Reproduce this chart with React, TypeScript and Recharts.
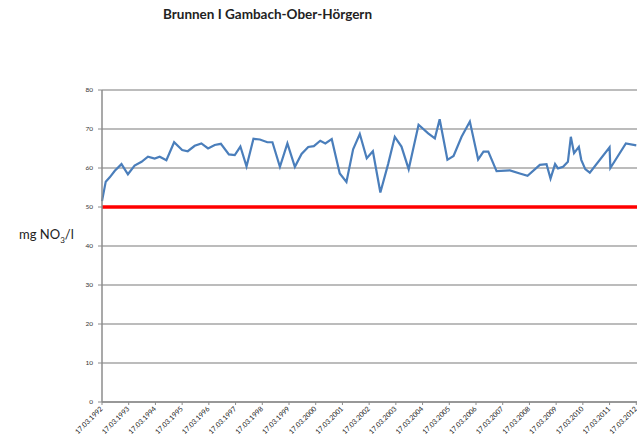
import { LineChart, Line, XAxis, YAxis, CartesianGrid, ReferenceLine } from 'recharts'

// sample dates as decimal years
const dates = [
  1992.21, 1992.35, 1992.5, 1992.69, 1992.94, 1993.18, 1993.43, 1993.69, 1993.93, 1994.18,
  1994.37, 1994.62, 1994.91, 1995.21, 1995.42, 1995.68, 1995.93, 1996.18, 1996.43, 1996.66,
  1996.96, 1997.18, 1997.39, 1997.62, 1997.88, 1998.12, 1998.4, 1998.59, 1998.87, 1999.15,
  1999.43, 1999.68, 1999.93, 2000.14, 2000.38, 2000.57, 2000.81, 2001.11, 2001.36, 2001.61,
  2001.86, 2002.12, 2002.35, 2002.63, 2002.92, 2003.17, 2003.42, 2003.69, 2004.06, 2004.42,
  2004.67, 2004.85, 2005.14, 2005.37, 2005.67, 2005.98, 2006.29, 2006.49, 2006.67, 2006.98,
  2007.48, 2007.85, 2008.14, 2008.6, 2008.85, 2009.0, 2009.17, 2009.28, 2009.47, 2009.65,
  2009.76, 2009.88, 2010.06, 2010.15, 2010.3, 2010.47, 2011.21, 2011.24, 2011.82, 2012.21,
]

// nitrate, mg NO3/l
const nitrate = [
  51.5, 56.5, 57.6, 59.3, 61.0, 58.4, 60.6, 61.6, 62.9, 62.4,
  62.9, 62.0, 66.6, 64.6, 64.3, 65.7, 66.3, 65.0, 65.9, 66.2,
  63.5, 63.3, 65.5, 60.4, 67.5, 67.3, 66.6, 66.6, 60.3, 66.3,
  60.3, 63.6, 65.4, 65.6, 67.0, 66.3, 67.4, 58.6, 56.4, 64.8,
  68.7, 62.5, 64.3, 53.7, 61.0, 68.0, 65.5, 59.7, 71.1, 68.9,
  67.6, 72.5, 62.1, 63.1, 68.0, 71.9, 62.2, 64.2, 64.2, 59.2,
  59.4, 58.6, 58.0, 60.8, 61.0, 57.3, 61.0, 59.9, 60.3, 61.6,
  68.0, 63.8, 65.4, 62.1, 59.7, 58.8, 65.3, 60.0, 66.3, 65.8,
]

const tickYears = [
  1992, 1993, 1994, 1995, 1996, 1997, 1998, 1999, 2000, 2001, 2002,
  2003, 2004, 2005, 2006, 2007, 2008, 2009, 2010, 2011, 2012,
]
const yTicks = [0, 10, 20, 30, 40, 50, 60, 70, 80]
const limit = 50

const data = dates.map((t, i) => ({ t, v: nitrate[i] }))
const xTicks = tickYears.map((y) => y + 0.21)

const font = 'Lato, "DejaVu Sans", sans-serif'

const XTick = (props: any) => {
  const { x, y, payload } = props
  const year = Math.round(payload.value - 0.21)
  return (
    <text
      x={x}
      y={y}
      transform={`rotate(-45 ${x} ${y})`}
      textAnchor="end"
      dominantBaseline="middle"
      fontSize={7}
      fill="#222"
      fontFamily={font}
    >
      {`17.03.${year}`}
    </text>
  )
}

export default function App() {
  return (
    <div
      style={{
        position: 'absolute',
        left: 0,
        top: 0,
        width: 637,
        height: 448,
        overflow: 'hidden',
        background: '#fff',
        fontFamily: font,
      }}
    >
      <div
        style={{
          position: 'absolute',
          left: 0,
          width: 535,
          top: 6,
          textAlign: 'center',
          fontSize: 13.5,
          fontWeight: 'bold',
          color: '#222',
        }}
      >
        Brunnen I Gambach-Ober-Hörgern
      </div>
      <div style={{ position: 'absolute', left: 19, top: 226, fontSize: 13, color: '#222' }}>
        mg NO<sub style={{ fontSize: 8 }}>3</sub>/l
      </div>
      <div style={{ position: 'absolute', left: 0, top: 0 }}>
        <LineChart
          width={680}
          height={448}
          data={data}
          margin={{ top: 90, right: 17, bottom: 0, left: 72 }}
        >
          <CartesianGrid horizontal vertical={false} stroke="#a6a6a6" strokeWidth={1.3} />
          <XAxis
            type="number"
            dataKey="t"
            domain={[1992.21, 2013.21]}
            ticks={xTicks}
            interval={0}
            height={46}
            tick={<XTick />}
            tickSize={3}
            tickMargin={3}
            axisLine={{ stroke: '#8c8c8c', strokeWidth: 1.5 }}
            tickLine={{ stroke: '#8c8c8c' }}
          />
          <YAxis
            type="number"
            domain={[0, 80]}
            ticks={yTicks}
            width={30}
            tickSize={4}
            tickMargin={5}
            tick={{ fontSize: 6.5, fill: '#333', fontFamily: font }}
            axisLine={{ stroke: '#8c8c8c', strokeWidth: 1.5 }}
            tickLine={{ stroke: '#8c8c8c' }}
          />
          <ReferenceLine y={limit} stroke="#ff0000" strokeWidth={3.5} />
          <Line
            type="linear"
            dataKey="v"
            stroke="#4a7ebb"
            strokeWidth={2.2}
            dot={false}
            isAnimationActive={false}
          />
        </LineChart>
      </div>
    </div>
  )
}
